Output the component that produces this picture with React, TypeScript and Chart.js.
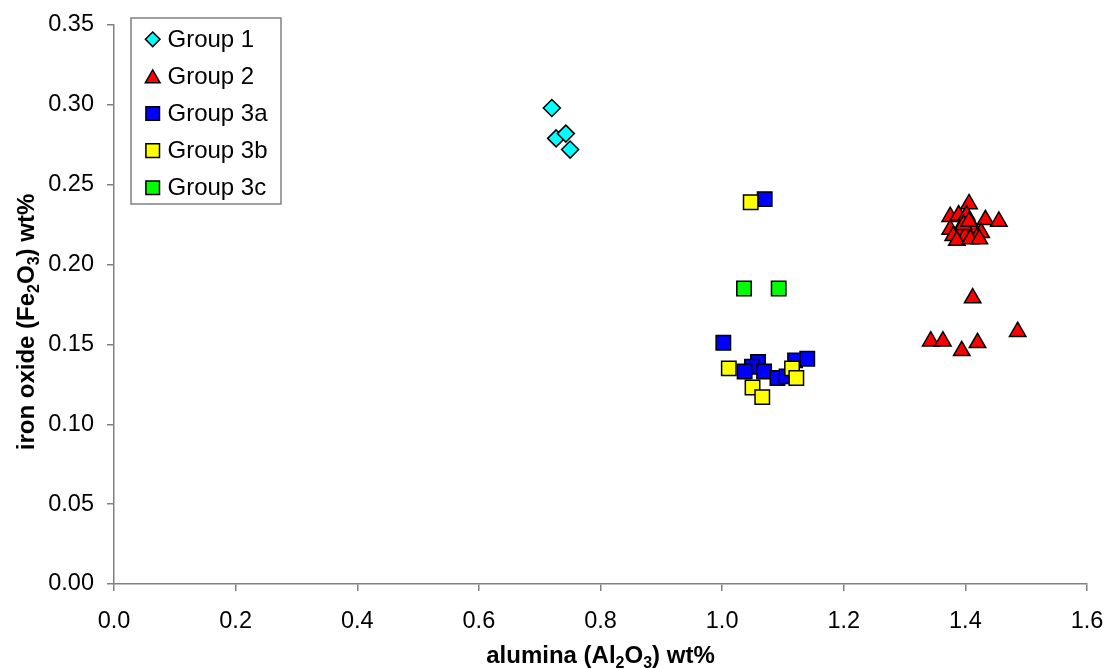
import React, { useEffect, useRef } from "react";
import { Chart, registerables } from "chart.js";

Chart.register(...registerables);

// ---- Data ----
const group1X = [0.720, 0.727, 0.743, 0.750];
const group1Y = [0.298, 0.279, 0.282, 0.272];

const group2X = [1.406, 1.375, 1.433, 1.455, 1.389, 1.402, 1.375, 1.391, 1.413, 1.426, 1.380, 1.400, 1.419, 1.386, 1.408, 1.423, 1.397, 1.406, 1.412, 1.486, 1.343, 1.363, 1.420, 1.394];
const group2Y = [0.238, 0.230, 0.228, 0.227, 0.231, 0.231, 0.222, 0.222, 0.223, 0.220, 0.218, 0.218, 0.217, 0.215, 0.216, 0.216, 0.225, 0.227, 0.179, 0.158, 0.152, 0.152, 0.151, 0.146];

const group3aX = [1.070, 1.002, 1.059, 1.049, 1.037, 1.069, 1.091, 1.106, 1.120, 1.140];
const group3aY = [0.241, 0.151, 0.139, 0.136, 0.133, 0.133, 0.129, 0.130, 0.140, 0.141];

const group3bX = [1.047, 1.011, 1.115, 1.122, 1.050, 1.066];
const group3bY = [0.239, 0.135, 0.135, 0.129, 0.123, 0.117];

const group3cX = [1.036, 1.093];
const group3cY = [0.185, 0.185];

const seriesNames = ["Group 1", "Group 2", "Group 3a", "Group 3b", "Group 3c"];
const seriesColors = ["#00FFFF", "#FF0000", "#0000FF", "#FFFF00", "#00FF00"];
const seriesShapes = ["rectRot", "triangle", "rect", "rect", "rect"];
const seriesRadius = [8.5, 9.5, 10.2, 10.2, 10.2];
const legendRadius = [7.3, 8.5, 9.6, 9.6, 9.6];

const xTicks = [0, 0.2, 0.4, 0.6, 0.8, 1.0, 1.2, 1.4, 1.6];
const yTicks = [0, 0.05, 0.1, 0.15, 0.2, 0.25, 0.3, 0.35];

const xTitle = [
  { t: "alumina (Al", sub: false },
  { t: "2", sub: true },
  { t: "O", sub: false },
  { t: "3", sub: true },
  { t: ") wt%", sub: false },
];
const yTitle = [
  { t: "iron oxide (Fe", sub: false },
  { t: "2", sub: true },
  { t: "O", sub: false },
  { t: "3", sub: true },
  { t: ") wt%", sub: false },
];

const FONT = "'Liberation Sans', Arial, Helvetica, sans-serif";

const toPoints = (xs: number[], ys: number[]) => xs.map((x, i) => ({ x, y: ys[i] }));

const drawRich = (
  ctx: CanvasRenderingContext2D,
  segs: { t: string; sub: boolean }[],
  cx: number,
  cy: number,
  rot: number
) => {
  const mainF = `bold 24px ${FONT}`;
  const subF = `bold 16px ${FONT}`;
  ctx.save();
  ctx.translate(cx, cy);
  ctx.rotate(rot);
  let total = 0;
  const widths = segs.map((s) => {
    ctx.font = s.sub ? subF : mainF;
    const w = ctx.measureText(s.t).width;
    total += w;
    return w;
  });
  let x = -total / 2;
  ctx.fillStyle = "#000";
  ctx.textBaseline = "alphabetic";
  ctx.textAlign = "left";
  segs.forEach((s, i) => {
    ctx.font = s.sub ? subF : mainF;
    ctx.fillText(s.t, x, s.sub ? 5 : 0);
    x += widths[i];
  });
  ctx.restore();
};

const markerPath = (ctx: CanvasRenderingContext2D, shape: string, r: number, x: number, y: number) => {
  ctx.beginPath();
  if (shape === "rectRot") {
    ctx.moveTo(x - r, y);
    ctx.lineTo(x, y - r);
    ctx.lineTo(x + r, y);
    ctx.lineTo(x, y + r);
  } else if (shape === "triangle") {
    const h = r * Math.sqrt(3) / 2;
    ctx.moveTo(x, y - r);
    ctx.lineTo(x + h, y + r / 2);
    ctx.lineTo(x - h, y + r / 2);
  } else {
    const s = r * Math.SQRT1_2;
    ctx.rect(x - s, y - s, 2 * s, 2 * s);
  }
  ctx.closePath();
};

const decorPlugin = {
  id: "decor",
  afterDraw(chart: any) {
    const ctx: CanvasRenderingContext2D = chart.ctx;
    const area = chart.chartArea;
    // axis titles
    drawRich(ctx, xTitle, (area.left + area.right) / 2, 663, 0);
    drawRich(ctx, yTitle, 34, 322, -Math.PI / 2);

    // legend box
    ctx.save();
    ctx.fillStyle = "#FFFFFF";
    ctx.fillRect(131, 18, 150, 186);
    ctx.strokeStyle = "#808080";
    ctx.lineWidth = 1.5;
    ctx.strokeRect(131, 18, 150, 186);
    seriesNames.forEach((name, i) => {
      const y = 39.3 + i * 37.1;
      const cy = seriesShapes[i] === "triangle" ? y + 2 : y;
      markerPath(ctx, seriesShapes[i], legendRadius[i], 152.7, cy);
      ctx.fillStyle = seriesColors[i];
      ctx.fill();
      ctx.strokeStyle = "#000";
      ctx.lineWidth = 1.5;
      ctx.stroke();
      ctx.fillStyle = "#000";
      ctx.font = `24px ${FONT}`;
      ctx.textBaseline = "middle";
      ctx.textAlign = "left";
      ctx.fillText(name, 167.5, y + 1);
    });
    ctx.restore();
  },
};

export default function App() {
  const ref = useRef<HTMLCanvasElement | null>(null);

  useEffect(() => {
    if (!ref.current) return;
    const series = [
      toPoints(group1X, group1Y),
      toPoints(group2X, group2Y),
      toPoints(group3aX, group3aY),
      toPoints(group3bX, group3bY),
      toPoints(group3cX, group3cY),
    ];
    const chart = new Chart(ref.current, {
      type: "scatter",
      data: {
        datasets: series.map((data, i) => ({
          label: seriesNames[i],
          data,
          order: 5 - i,
          pointStyle: seriesShapes[i] as any,
          pointRadius: seriesRadius[i],
          pointHoverRadius: seriesRadius[i],
          backgroundColor: seriesColors[i],
          borderColor: "#000000",
          pointBorderWidth: 1.5,
          borderWidth: 1.5,
        })),
      },
      options: {
        animation: false,
        responsive: false,
        events: [],
        layout: { padding: { left: 0, top: 25, right: 20, bottom: 0 } },
        plugins: {
          legend: { display: false },
          tooltip: { enabled: false },
          title: { display: false },
        },
        scales: {
          x: {
            type: "linear",
            min: 0,
            max: 1.6,
            afterBuildTicks: (scale: any) => {
              scale.ticks = xTicks.map((v) => ({ value: v }));
            },
            afterFit: (scale: any) => {
              scale.height = 84;
              scale.paddingLeft = 0;
              scale.paddingRight = 0;
            },
            border: { display: true, color: "#808080", width: 1.5 },
            grid: { display: true, drawOnChartArea: false, drawTicks: true, tickLength: 7, color: "#808080", lineWidth: 1.5 },
            ticks: {
              padding: 16,
              color: "#000",
              font: { family: FONT, size: 23.5 },
              maxRotation: 0,
              autoSkip: false,
              callback: (v: any) => Number(v).toFixed(1),
            },
          },
          y: {
            type: "linear",
            min: 0,
            max: 0.35,
            afterBuildTicks: (scale: any) => {
              scale.ticks = yTicks.map((v) => ({ value: v }));
            },
            afterFit: (scale: any) => {
              scale.width = 114;
              scale.paddingTop = 0;
              scale.paddingBottom = 0;
            },
            border: { display: true, color: "#808080", width: 1.5 },
            grid: { display: true, drawOnChartArea: false, drawTicks: true, tickLength: 7, color: "#808080", lineWidth: 1.5 },
            ticks: {
              padding: 13,
              color: "#000",
              font: { family: FONT, size: 23.5 },
              autoSkip: false,
              callback: (v: any) => Number(v).toFixed(2),
            },
          },
        },
      },
      plugins: [decorPlugin],
    });
    return () => chart.destroy();
  }, []);

  return (
    <div style={{ position: "fixed", left: 0, top: 0, width: 1107, height: 668, background: "#fff" }}>
      <canvas ref={ref} width={1107} height={668} style={{ display: "block" }} />
    </div>
  );
}
